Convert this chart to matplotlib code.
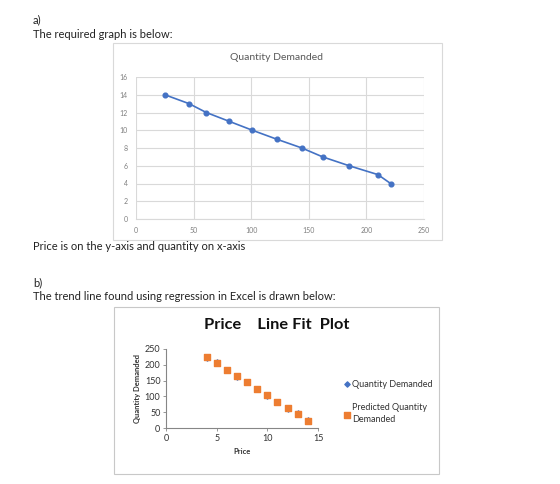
import matplotlib
matplotlib.use("Agg")
import matplotlib.pyplot as plt
from matplotlib.patches import Rectangle

plt.rcParams['font.family'] = ['Lato', 'DejaVu Sans']

# Data
quantity = [25, 46, 61, 81, 101, 122, 144, 162, 185, 210, 221]
price = [14, 13, 12, 11, 10, 9, 8, 7, 6, 5, 4]
predicted_qty = [23, 43, 63, 83, 104, 124, 144, 164, 184, 205, 225]
x1_ticks = [0, 50, 100, 150, 200, 250]
y1_ticks = [0, 2, 4, 6, 8, 10, 12, 14, 16]
x2_ticks = [0, 5, 10, 15]
y2_ticks = [0, 50, 100, 150, 200, 250]

blue = '#4472C4'
orange = '#ED7D31'
txt = '#222222'

fig = plt.figure(figsize=(5.6, 4.84), dpi=100)
W, H = 560, 484

def fx(px):
    return px / W

def fy(py):
    return 1 - py / H

# Body texts
fig.text(fx(33), fy(20), 'a)', fontsize=8, color=txt, va='center')
fig.text(fx(33), fy(35), 'The required graph is below:', fontsize=8, color=txt, va='center')
fig.text(fx(33), fy(247), 'Price is on the y-axis and quantity on x-axis', fontsize=8, color=txt, va='center')
fig.text(fx(33), fy(283), 'b)', fontsize=8, color=txt, va='center')
fig.text(fx(33), fy(296), 'The trend line found using regression in Excel is drawn below:', fontsize=8, color=txt, va='center')

# Frames
fig.patches.append(Rectangle((fx(113), fy(240)), (442 - 113) / W, (240 - 43) / H,
                             transform=fig.transFigure, fill=False, edgecolor='#d9d9d9', lw=0.8))
fig.patches.append(Rectangle((fx(114), fy(474)), (439 - 114) / W, (474 - 307) / H,
                             transform=fig.transFigure, fill=False, edgecolor='#c8c8c8', lw=0.8))

# Chart 1
ax1 = fig.add_axes([fx(136), fy(219), (424 - 136) / W, (219 - 77) / H])
ax1.plot(quantity, price, color=blue, lw=1.2, marker='o', ms=3.4)
ax1.set_xlim(0, 250)
ax1.set_ylim(0, 16)
ax1.set_xticks(x1_ticks)
ax1.set_yticks(y1_ticks)
ax1.grid(True, color='#d9d9d9', lw=0.8)
ax1.set_axisbelow(True)
for s in ['top', 'right', 'left']:
    ax1.spines[s].set_visible(False)
ax1.spines['bottom'].set_color('#d9d9d9')
ax1.tick_params(length=0, labelsize=5, labelcolor='#7f7f7f', pad=6)
fig.text(fx(277), fy(58), 'Quantity Demanded', fontsize=7.5, color='#595959', ha='center', va='center')

# Chart 2
ax2 = fig.add_axes([fx(166), fy(428), (318 - 166) / W, (428 - 349) / H])
ax2.scatter(price, quantity, marker='D', s=7, color=blue, label='Quantity Demanded', zorder=2)
ax2.scatter(price, predicted_qty, marker='s', s=16, color=orange,
            label='Predicted Quantity\nDemanded', zorder=3)
ax2.set_xlim(0, 15)
ax2.set_ylim(0, 250)
ax2.set_xticks(x2_ticks)
ax2.set_yticks(y2_ticks)
for s in ['top', 'right']:
    ax2.spines[s].set_visible(False)
ax2.spines['left'].set_color('#868686')
ax2.spines['bottom'].set_color('#868686')
ax2.tick_params(length=2, width=0.6, color='#868686', labelsize=6.5, labelcolor='#333333', pad=2)
ax2.set_xlabel('Price', fontsize=5.5, fontweight='bold', color='#333333', labelpad=4)
ax2.set_ylabel('Quantity Demanded', fontsize=5.5, fontweight='bold', color='#333333', labelpad=3)
fig.text(fx(277), fy(325), 'Price    Line Fit  Plot', fontsize=11.8, fontweight='bold',
         color='#111111', ha='center', va='center')
leg = ax2.legend(loc='center left', bbox_to_anchor=(fx(336), fy(402)), bbox_transform=fig.transFigure,
                 frameon=False, fontsize=6.5, handlelength=0.6, handletextpad=0.3, labelspacing=1.6,
                 markerscale=1.0)
for t in leg.get_texts():
    t.set_color('#333333')
    t.set_linespacing(1.5)

fig.savefig('out.png', dpi=100)
